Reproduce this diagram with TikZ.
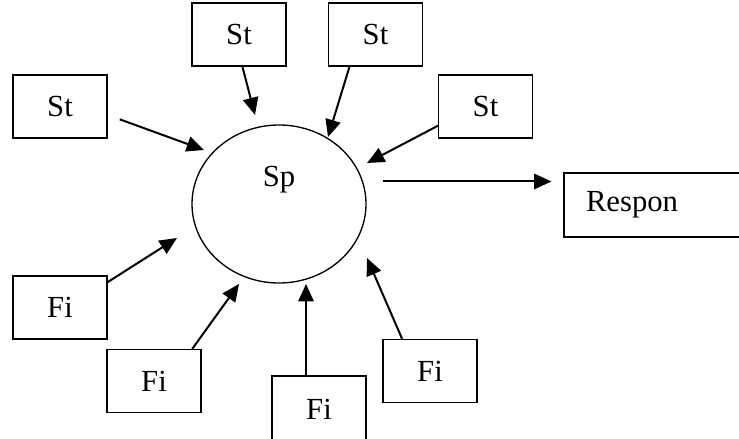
\documentclass[tikz,border=0pt]{standalone}
\usepackage{fontspec}
\setmainfont{Liberation Serif}
\usepackage{tikz}
\usetikzlibrary{
  arrows.meta,
  positioning,
  shapes.geometric
}
\newcommand{\cellfont}{\fontsize{23}{27}\selectfont}
\tikzset{
  inbox/.style={draw, line width=0.8pt,
    minimum width=70.5pt, minimum height=47.25pt,
    inner sep=0pt, align=center, font=\cellfont},
  respbox/.style={draw, line width=0.8pt,
    minimum height=48pt, inner xsep=16.5pt, inner ysep=0pt,
    text width=102pt, align=left, font=\cellfont},
  arr/.style={-{Triangle[length=13pt, width=11.5pt]}, line width=1.5pt},
}

\begin{document}
\begin{tikzpicture}[
  x=0.75pt, y=-0.75pt,
  spcell/.style={draw, ellipse, line width=1pt,
    minimum width=130.5pt, minimum height=118.5pt, inner sep=0pt}
]
  \useasboundingbox (0,0) rectangle (739,439);
  \clip (0,0) rectangle (739,439);

  % Centre cell
  \node[spcell] (sp) at (279,204) {};
  \node[anchor=base, font=\cellfont] (splabel) at (279,186) {Sp};

  % St boxes
  \node[inbox] (st1) at (60,106.5) {St};
  \node[inbox] (st2) at (239,34.5) {St};
  \node[inbox] (st3) at (375.5,34.5) {St};
  \node[inbox] (st4) at (485.5,106.5) {St};

  % Fi boxes
  \node[inbox] (fi1) at (60,307.5) {Fi};
  \node[inbox] (fi2) at (154,381) {Fi};
  \node[inbox, minimum height=49.5pt] (fi3) at (319,409) {Fi};
  \node[inbox] (fi4) at (430,371) {Fi};

  % Output
  \node[respbox] (resp) at (654,205) {Respon};

  % Arrow tips around the cell
  \coordinate (t1) at (204,150);
  \coordinate (t2) at (255,115);
  \coordinate (t3) at (328,137);
  \coordinate (t4) at (367,163);
  \coordinate (t6) at (177,238);
  \coordinate (t7) at (239,284);
  \coordinate (t8) at (306,284);
  \coordinate (t9) at (367,258);

  \draw[arr, shorten <=9.75pt] (st1.-10) -- (t1);
  \draw[arr] (st2.-84) -- (t2);
  \draw[arr] (st3.-129) -- (t3);
  \draw[arr] (st4.-158) -- (t4);

  \draw[arr] (fi1.28) -- (t6);
  \draw[arr] (fi2.40) -- (t7);
  \draw[arr] (t8 |- fi3.north) -- (t8);
  \draw[arr] (fi4.131) -- (t9);

  \draw[arr, shorten <=15pt, shorten >=9pt] (sp.15) -- (sp.15 -| resp.west);
\end{tikzpicture}
\end{document}
